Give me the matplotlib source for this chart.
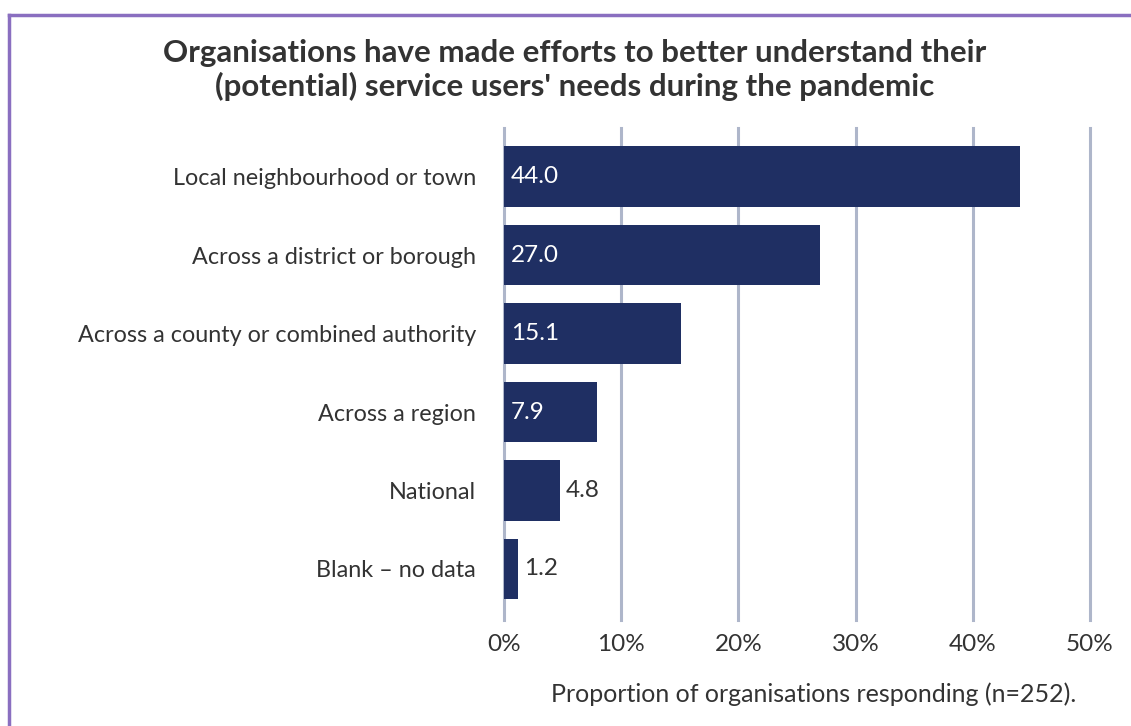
import matplotlib.pyplot as plt
from matplotlib.lines import Line2D

categories = [
    'Local neighbourhood or town',
    'Across a district or borough',
    'Across a county or combined authority',
    'Across a region',
    'National',
    'Blank \u2013 no data',
]
values = [44.0, 27.0, 15.1, 7.9, 4.8, 1.2]
xticks = [0, 10, 20, 30, 40, 50]

navy = '#1f2f63'
grid_col = '#aeb6ca'
text_col = '#333333'

plt.rcParams['font.family'] = ['Lato', 'DejaVu Sans']

fig = plt.figure(figsize=(11.31, 7.26), dpi=100)
ax = fig.add_axes([504 / 1131, 1 - 620 / 726, 586 / 1131, 492 / 726])

ypos = list(range(len(categories)))
ax.barh(ypos, values, height=0.77, color=navy, zorder=3)
ax.set_ylim(len(categories) - 0.35, -0.62)
ax.set_xlim(0, 50)

for x in xticks:
    ax.axvline(x, color=grid_col, lw=2.2, zorder=1, clip_on=False)

for y, v in zip(ypos, values):
    if v > 6:
        ax.text(0.6, y, f'{v:.1f}', color='white', va='center', ha='left',
                fontsize=17.5, zorder=4)
    else:
        ax.text(v + 0.5, y, f'{v:.1f}', color=text_col, va='center', ha='left',
                fontsize=17.5, zorder=4)

ax.set_yticks(ypos)
ax.set_yticklabels(categories, fontsize=16.8, color=text_col)
ax.set_xticks(xticks)
ax.set_xticklabels([f'{x}%' for x in xticks], fontsize=17.5, color=text_col)
ax.tick_params(length=0, axis='y', pad=20)
ax.tick_params(length=0, axis='x', pad=10)
for s in ax.spines.values():
    s.set_visible(False)

fig.text(575 / 1131, 1 - 70 / 726,
         "Organisations have made efforts to better understand their\n"
         "(potential) service users' needs during the pandemic",
         ha='center', va='center', fontsize=22.5, fontweight='bold',
         color=text_col, linespacing=1.2)

fig.text(814 / 1131, 1 - 694 / 726,
         'Proportion of organisations responding (n=252).',
         ha='center', va='center', fontsize=18, color=text_col)

# purple frame along the top and left edges
frame = '#8a6fc0'
fig.add_artist(Line2D([9 / 1131, 1], [1 - 15 / 726, 1 - 15 / 726],
                      transform=fig.transFigure, color=frame, lw=2.5))
fig.add_artist(Line2D([9 / 1131, 9 / 1131], [0, 1 - 15 / 726],
                      transform=fig.transFigure, color=frame, lw=2.5))

fig.savefig('out.png', dpi=100)
